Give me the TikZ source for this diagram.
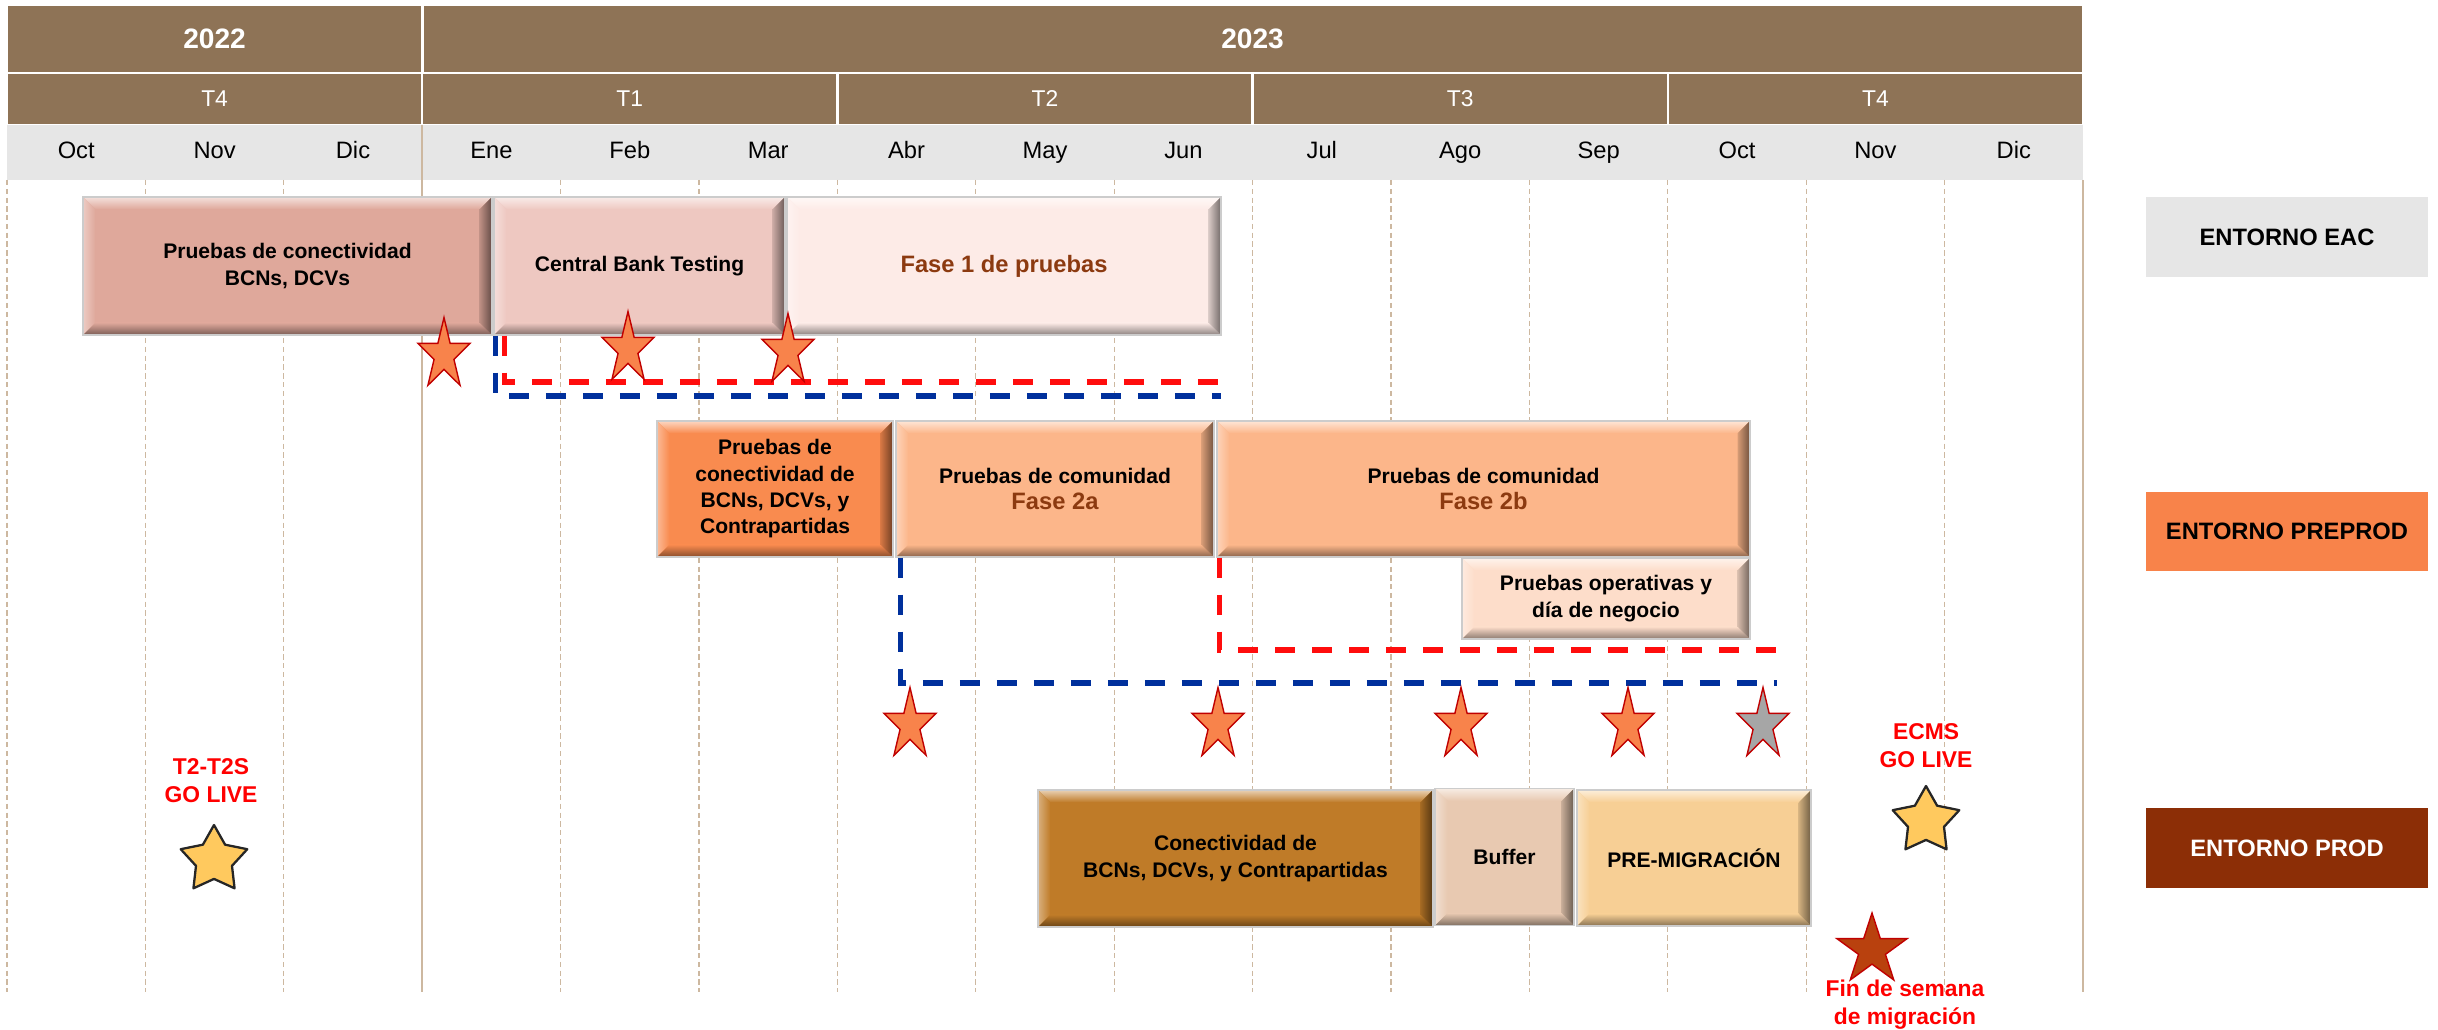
\documentclass[tikz,border=0pt]{standalone}
\usepackage{fontspec}
\setmainfont{Liberation Sans}
\usetikzlibrary{shapes.geometric}

\definecolor{headbrown}{HTML}{8E7356}
\definecolor{bandgrey}{HTML}{E6E6E6}
\definecolor{gridtan}{HTML}{CDB8A0}
\definecolor{eacA}{HTML}{DFA89B}
\definecolor{eacB}{HTML}{EEC8C1}
\definecolor{eacC}{HTML}{FDEBE7}
\definecolor{preA}{HTML}{F98B4F}
\definecolor{preB}{HTML}{FCB68A}
\definecolor{preC}{HTML}{FDDDCA}
\definecolor{prodA}{HTML}{BF7B28}
\definecolor{prodB}{HTML}{E8C9B1}
\definecolor{prodC}{HTML}{F7CF95}
\definecolor{envpre}{HTML}{F8834A}
\definecolor{envprod}{HTML}{8C2E06}
\definecolor{fasetxt}{HTML}{8C3A10}
\definecolor{dashred}{HTML}{FF0D0D}
\definecolor{dashblue}{HTML}{00309C}
\definecolor{hitofill}{HTML}{F8834B}
\definecolor{hitoedge}{HTML}{C00000}
\definecolor{hitogrey}{HTML}{A6A6A6}
\definecolor{golivefill}{HTML}{FFC95E}
\definecolor{migfill}{HTML}{B9410E}
\definecolor{lblred}{HTML}{FF0000}

\begin{document}
\begin{tikzpicture}[x=0.02cm, y=-0.02cm,
    every node/.style={inner sep=0pt, align=center},
    cell/.style={fill=headbrown, draw=white, line width=1.4pt, text=white},
    month/.style={anchor=base, font=\fontsize{13.5}{16}\selectfont},
    gridline/.style={gridtan, line width=0.6pt, dash pattern=on 3pt off 2pt},
    yearline/.style={gridtan, line width=0.9pt},
    phase/.style={draw=black!20, line width=0.8pt, fill=#1,
        font=\fontsize{12}{15}\selectfont\bfseries,
        path picture={
            \path (path picture bounding box.north west) coordinate (bnw)
                  (path picture bounding box.north east) coordinate (bne)
                  (path picture bounding box.south west) coordinate (bsw)
                  (path picture bounding box.south east) coordinate (bse);
            % light bevel on top and left
            \shade[top color=white!65!#1, bottom color=#1] (bnw) -- (bne) -- ([shift={(-7pt,-7pt)}]bne) -- ([shift={(7pt,-7pt)}]bnw) -- cycle;
            \shade[left color=white!40!#1, right color=#1] (bnw) -- ([shift={(7pt,-7pt)}]bnw) -- ([shift={(7pt,7pt)}]bsw) -- (bsw) -- cycle;
            % dark bevel on bottom and right
            \shade[top color=#1, bottom color=#1!55!black] ([shift={(7pt,7pt)}]bsw) -- ([shift={(-7pt,7pt)}]bse) -- (bse) -- (bsw) -- cycle;
            \shade[left color=#1!85!black, right color=#1!45!black] ([shift={(-7pt,-7pt)}]bne) -- (bne) -- (bse) -- ([shift={(-7pt,7pt)}]bse) -- cycle;
        }},
    fase/.style={text=fasetxt, font=\fontsize{13.5}{16}\selectfont\bfseries},
    env/.style={minimum width=5.64cm, minimum height=1.6cm, font=\fontsize{13.5}{16}\selectfont\bfseries},
    rdash/.style={dashred, line width=2.9pt, dash pattern=on 0.4cm off 0.34cm},
    bdash/.style={dashblue, line width=2.9pt, dash pattern=on 0.4cm off 0.34cm},
    hito/.style={star, star points=5, star point ratio=2.618, minimum size=1.5cm, xscale=0.73,
        draw=hitoedge, fill=hitofill, line width=0.8pt},
    golive/.style={star, star points=5, star point ratio=1.85, minimum size=1.4cm,
        draw=black!85, fill=golivefill, line width=1.3pt, line join=round},
    redlbl/.style={text=lblred, font=\fontsize{13}{16}\selectfont\bfseries}]

    \useasboundingbox (0,0) rectangle (2438,1030);

    % Years and quarters
    \node[cell, minimum width=8.304cm, minimum height=1.36cm, font=\fontsize{16}{19}\selectfont\bfseries] (yr22) at (214.6,39) {2022};
    \node[cell, minimum width=33.216cm, minimum height=1.36cm, font=\fontsize{16}{19}\selectfont\bfseries] (yr23) at (1252.6,39) {2023};
    \foreach \lab [count=\i from 0] in {T4,T1,T2,T3,T4}
        \node[cell, minimum width=8.304cm, minimum height=1.04cm, font=\fontsize{13}{15}\selectfont] (q\i) at ({7+415.2*(\i+0.5)},99) {\lab};

    % Months
    \node[fill=bandgrey, minimum width=41.52cm, minimum height=1.1cm] (mband) at (1045,152.5) {};
    \foreach \m [count=\i from 0] in {Oct,Nov,Dic,Ene,Feb,Mar,Abr,May,Jun,Jul,Ago,Sep,Oct,Nov,Dic}
        \node[month] (m\i) at ({7+138.4*(\i+0.5)},159) {\m};

    % Grid
    \foreach \i in {0,1,2,4,5,6,7,8,9,10,11,12,13,14}
        \draw[gridline] ({7+138.4*\i},180) -- ({7+138.4*\i},992);
    \draw[yearline] (422.2,125) -- (422.2,992);
    \draw[yearline] (2083,180) -- (2083,992);

    % Entorno EAC
    \node[phase=eacA, minimum width=8.18cm, minimum height=2.76cm] (pcon) at (287.5,266) {Pruebas de conectividad\\BCNs, DCVs};
    \node[phase=eacB, minimum width=5.82cm, minimum height=2.76cm] (cbt) at (639.5,266) {Central Bank Testing};
    \node[phase=eacC, fase, minimum width=8.68cm, minimum height=2.76cm] (fase1) at (1004,266) {Fase 1 de pruebas};

    % Entorno PREPROD
    \node[phase=preA, minimum width=4.72cm, minimum height=2.72cm] (pconx) at (775,489) {Pruebas de\\conectividad de\\BCNs, DCVs, y\\Contrapartidas};
    \node[phase=preB, minimum width=6.36cm, minimum height=2.72cm] (f2a) at (1055,489) {Pruebas de comunidad\\{\color{fasetxt}\fontsize{13.5}{16}\selectfont Fase 2a}};
    \node[phase=preB, minimum width=10.66cm, minimum height=2.72cm] (f2b) at (1483.5,489) {Pruebas de comunidad\\{\color{fasetxt}\fontsize{13.5}{16}\selectfont Fase 2b}};
    \node[phase=preC, minimum width=5.76cm, minimum height=1.62cm] (oper) at (1606,598.5) {Pruebas operativas y\\día de negocio};

    % Entorno PROD
    \node[phase=prodA, minimum width=7.9cm, minimum height=2.74cm] (cprod) at (1235.5,858.5) {Conectividad de\\BCNs, DCVs, y Contrapartidas};
    \node[phase=prodB, minimum width=2.78cm, minimum height=2.74cm] (buffer) at (1504.5,857) {Buffer};
    \node[phase=prodC, minimum width=4.68cm, minimum height=2.72cm] (premig) at (1694,858) {PRE-MIGRACIÓN};

    % Dashed markers
    \coordinate (endEacR) at (1221,382);
    \coordinate (endEacB) at (1221,396);
    \coordinate (endPreR) at (1777,650);
    \coordinate (endPreB) at (1777,683);
    \draw[bdash] ([xshift=0.04cm]cbt.south west) |- (endEacB);
    \draw[rdash] ([xshift=0.22cm]cbt.south west) |- (endEacR);
    \draw[bdash] ([xshift=0.1cm]f2a.south west) |- (endPreB);
    \draw[rdash] ([xshift=0.06cm]f2b.south west) |- (endPreR);

    % Milestones
    \foreach \x/\y [count=\i] in {444/355, 628/349, 788/351, 910/725, 1218/725, 1461/725, 1628/725}
        \node[hito] (h\i) at (\x,\y) {};
    \node[hito, fill=hitogrey] (h8) at (1763,725) {};

    % Go live
    \node[redlbl] (t2s) at (211,781) {T2-T2S\\GO LIVE};
    \node[golive] (t2sstar) at (214,860) {};
    \node[redlbl] (ecms) at (1926,746) {ECMS\\GO LIVE};
    \node[golive] (ecmsstar) at (1926,821) {};
    \node[golive, star point ratio=2.618, minimum size=1.48cm, fill=migfill, draw=hitoedge, line width=0.8pt, line join=miter] (migstar) at (1872,950) {};
    \node[redlbl] (mig) at (1905,1005) {Fin de semana\\de migración};

    % Environments
    \node[env, fill=bandgrey] (envEAC) at (2287,237) {ENTORNO EAC};
    \node[env, fill=envpre] (envPRE) at (2287,531.5) {ENTORNO PREPROD};
    \node[env, fill=envprod, text=white] (envPROD) at (2287,848) {ENTORNO PROD};
\end{tikzpicture}
\end{document}
